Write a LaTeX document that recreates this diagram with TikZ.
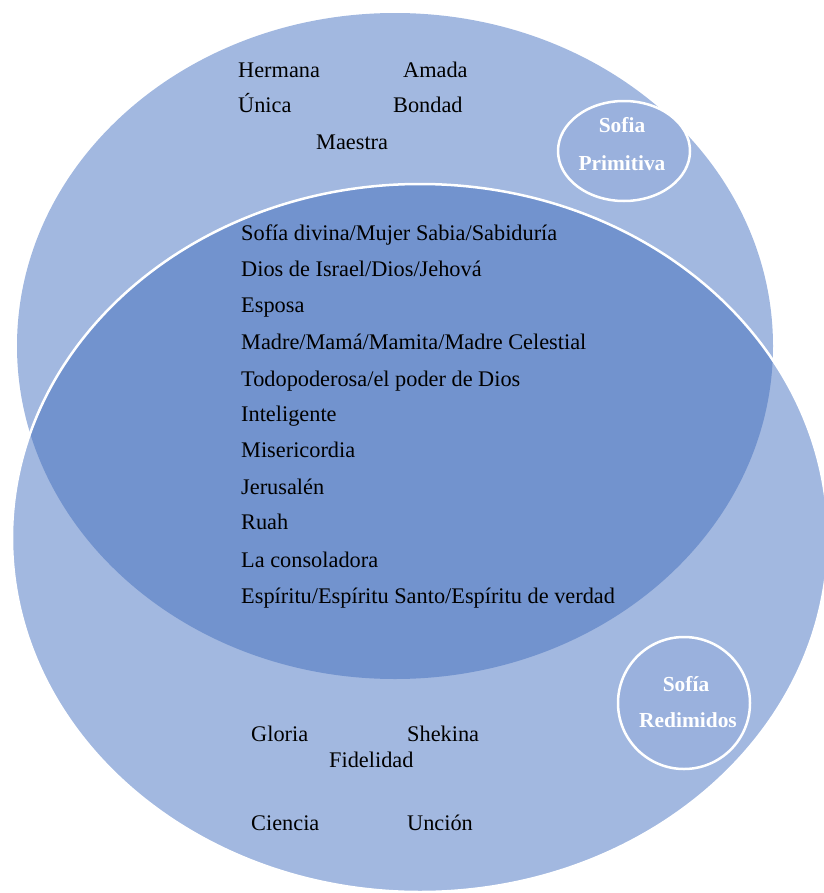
\documentclass[tikz,border=0pt]{standalone}
\usepackage{fontspec}
\setmainfont{Liberation Serif}
\definecolor{lightb}{RGB}{162,184,224}
\definecolor{darkb}{RGB}{114,147,206}
\definecolor{circb}{RGB}{154,177,221}
\begin{document}
\begin{tikzpicture}[x=1bp,y=-1bp,
  txt/.style={anchor=base west,inner sep=0pt,font=\fontsize{22.4}{26}\selectfont},
  lab/.style={anchor=base,inner sep=0pt,text=white,font=\fontsize{21.5}{24}\selectfont\bfseries},
  ring/.style={draw=white,line width=2.5bp,fill=circb}]
\useasboundingbox (0,0) rectangle (824,893);
\clip (0,0) rectangle (824,893);
\fill[lightb] (395,346) ellipse [x radius=378, y radius=333];
\fill[lightb] (420,538) ellipse [x radius=408, y radius=354];
\begin{scope}
  \clip (395,346) ellipse [x radius=378, y radius=333];
  \fill[darkb] (420,538) ellipse [x radius=408, y radius=354];
\end{scope}
\draw[white,line width=2.5bp] (420,538) ellipse [x radius=408, y radius=354];
% small circles
\draw[ring] (624,151) ellipse [x radius=66, y radius=50];
\draw[ring] (684,703) ellipse [x radius=66, y radius=66];
\node[lab] (p1) at (622,132) {Sofia};
\node[lab] (p2) at (622,170) {Primitiva};
\node[lab] (r1) at (686,691) {Sofía};
\node[lab] (r2) at (688,727) {Redimidos};
% top words
\node[txt] (t1) at (238,77) {Hermana};
\node[txt] (t2) at (403,77) {Amada};
\node[txt] (t3) at (238,112) {Única};
\node[txt] (t4) at (393,112) {Bondad};
\node[txt] (t5) at (316,149) {Maestra};
% central list
\node[txt] (c1) at (241,240) {Sofía divina/Mujer Sabia/Sabiduría};
\node[txt] (c2) at (241,276) {Dios de Israel/Dios/Jehová};
\node[txt] (c3) at (241,312) {Esposa};
\node[txt] (c4) at (241,349) {Madre/Mamá/Mamita/Madre Celestial};
\node[txt] (c5) at (241,386) {Todopoderosa/el poder de Dios};
\node[txt] (c6) at (241,421) {Inteligente};
\node[txt] (c7) at (241,457) {Misericordia};
\node[txt] (c8) at (241,494) {Jerusalén};
\node[txt] (c9) at (241,529) {Ruah};
\node[txt] (c10) at (241,567) {La consoladora};
\node[txt] (c11) at (241,603) {Espíritu/Espíritu Santo/Espíritu de verdad};
% bottom words
\node[txt] (b1) at (251,741) {Gloria};
\node[txt] (b2) at (407,741) {Shekina};
\node[txt] (b3) at (329,767) {Fidelidad};
\node[txt] (b4) at (251,830) {Ciencia};
\node[txt] (b5) at (407,830) {Unción};
\end{tikzpicture}
\end{document}
